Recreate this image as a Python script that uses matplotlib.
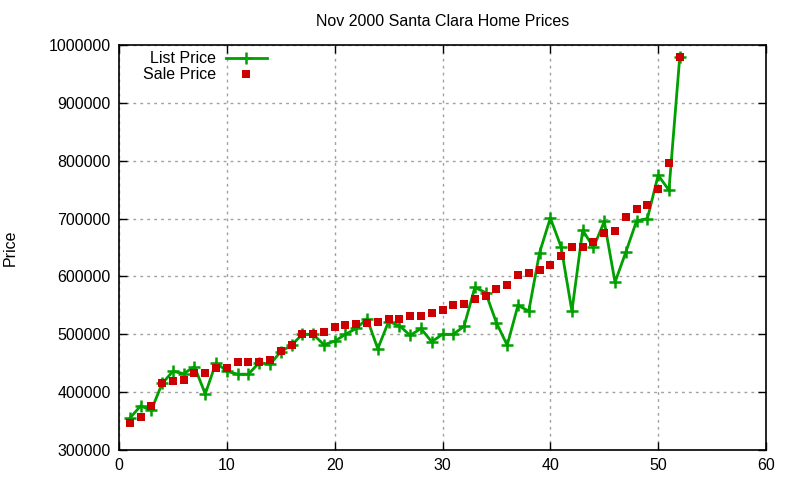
import numpy as np
import matplotlib
matplotlib.use("Agg")
from matplotlib import pyplot as plt

# house number (index) along the x axis
house = list(range(1, 53))

list_price = [355000, 376000, 369000, 415000, 436000, 432000, 444000, 397000, 451000, 436000,
              431000, 431000, 451000, 448000, 470000, 481000, 500000, 500000, 482000, 488000,
              500000, 510000, 527000, 475000, 522000, 515000, 498000, 510000, 487000, 500000,
              500000, 514000, 581000, 572000, 520000, 481000, 550000, 540000, 641000, 701000,
              651000, 540000, 680000, 650000, 695000, 590000, 642000, 696000, 700000, 775000,
              749000, 979000]

sale_price = [347000, 357000, 376000, 416000, 419000, 421000, 433000, 433000, 441000, 441000,
              452000, 452000, 452000, 455000, 471000, 482000, 500000, 500000, 504000, 513000,
              516000, 518000, 520000, 521000, 527000, 527000, 532000, 532000, 537000, 542000,
              551000, 553000, 561000, 566000, 578000, 585000, 603000, 606000, 611000, 620000,
              635000, 651000, 651000, 660000, 675000, 679000, 703000, 717000, 724000, 751000,
              796000, 979000]

plt.rcParams['font.family'] = ['Liberation Sans', 'DejaVu Sans']
plt.rcParams['font.size'] = 11.5

fig = plt.figure(figsize=(8, 4.8), dpi=100)
ax = fig.add_axes([119/800, 1 - 450/480, (766 - 119)/800, (450 - 45)/480])

ax.plot(house, list_price, color='#00a000', lw=2, marker='+', ms=9, mew=1.8,
        label='List Price', zorder=3)
ax.plot(house, sale_price, ls='none', color='#cc0000', marker='s', ms=6.3, mew=0,
        label='Sale Price', zorder=4)

ax.set_xlim(0, 60)
ax.set_ylim(300000, 1000000)
ax.set_xticks(range(0, 61, 10))
ax.set_yticks(range(300000, 1000001, 100000))
ax.set_yticklabels([str(v) for v in range(300000, 1000001, 100000)])

ax.grid(True, color='#a0a0a0', ls=(0, (2, 3)), lw=1)
ax.tick_params(direction='in', length=6, width=1, top=True, right=True, pad=6)
for s in ax.spines.values():
    s.set_linewidth(1.2)

ax.set_title('Nov 2000 Santa Clara Home Prices', fontsize=11.5, pad=14)
ax.set_ylabel('Price', labelpad=22)

leg = ax.legend(loc='upper left', bbox_to_anchor=(0.022, 1.008), frameon=False,
                markerfirst=False, handlelength=2.6, handletextpad=0.6,
                labelspacing=0.05, borderaxespad=0.2)

fig.savefig('out.png', dpi=100)
